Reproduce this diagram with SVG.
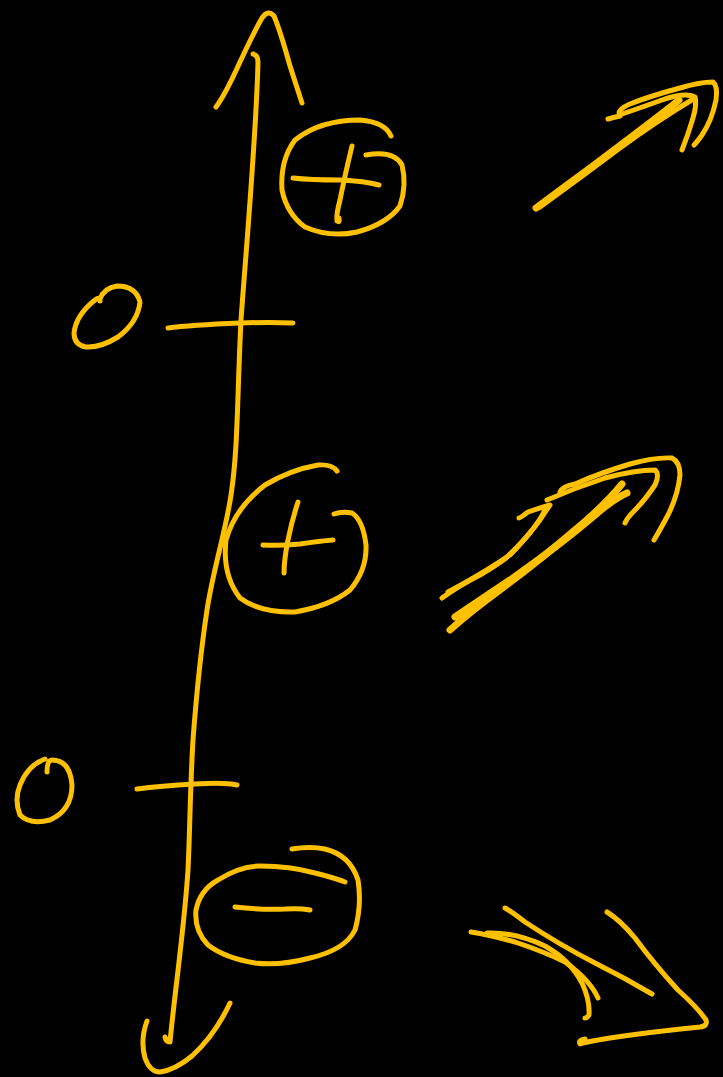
<svg xmlns="http://www.w3.org/2000/svg" width="723" height="1077" viewBox="0 0 723 1077">
<style>
.s{fill:none;stroke:#FFC000;stroke-width:5;stroke-linecap:round;stroke-linejoin:round}
.t{stroke-width:7}
</style>
<rect width="723" height="1077" fill="#000"/>
<g id="axis">
<path class="s" d="M253,54 Q258,55 258,62 C256,140 246,250 241,320 C237,400 238,450 231,495 C226,530 213,570 207,610 C201,650 196,700 193,740 C190,790 190,830 188,870 C184,930 175,990 170,1042 Q166,1042 165,1037"/>
<path class="s" d="M216,107 Q225,95 240,62 Q255,30 262,18 Q268,9 274,16 Q280,30 290,66 L302,103"/>
<path class="s" d="M147,1021 Q140,1040 145,1058 Q150,1072 160,1072 Q175,1070 192,1056 Q215,1035 230,1003"/>
</g>
<g id="tick-upper">
<path class="s" d="M168,328 Q190,325 240,323 Q270,322 293,323"/>
<path class="s" d="M100,299 Q104,288 117,286 Q136,286 140,302 Q138,322 118,337 Q100,348 86,347 Q74,345 74,333 Q76,315 95,300 Q100,296 100,301"/>
</g>
<g id="tick-lower">
<path class="s" d="M137,789 Q160,786 195,784 Q225,782 237,785"/>
<path class="s" d="M47,772 Q47,760 52,760 Q70,760 72,785 Q72,810 50,820 Q30,825 20,815 Q14,800 20,785 Q28,765 45,759"/>
</g>
<g id="plus-top">
<path class="s" d="M391,136 Q385,122 360,120 Q320,120 295,140 Q280,160 282,190 Q287,214 305,227 Q330,238 357,232 Q387,224 400,206 Q407,185 402,165 Q394,150 366,155"/>
<path class="s" d="M293,178 Q310,180 340,180 Q365,181 379,185"/>
<path class="s" d="M352,146 Q345,175 340,200 Q336,215 337,221 Q340,223 339,218"/>
</g>
<g id="plus-middle">
<path class="s" d="M337,471 Q332,464 318,465 Q290,470 265,485 Q235,508 226,540 Q222,575 240,598 Q260,613 295,612 Q330,606 350,590 Q367,570 366,545 Q363,520 352,513 Q342,511 334,514"/>
<path class="s" d="M263,545 Q280,546 300,544 Q320,541 333,540"/>
<path class="s" d="M298,502 Q292,520 288,540 Q284,560 284,573"/>
</g>
<g id="minus-bottom">
<path class="s" d="M292,849 Q310,846 325,849 Q350,855 358,880 Q362,905 355,930 Q345,950 310,958 Q280,966 255,963 Q225,958 208,945 Q194,930 196,910 Q200,890 218,880 Q240,866 260,866 Q290,866 315,873 Q335,878 345,882"/>
<path class="s" d="M235,907 Q260,910 285,909 Q300,908 310,910"/>
</g>
<g id="arrow-up-right-top">
<path class="s t" d="M536,208 Q560,190 590,168 Q630,138 660,115 Q672,106 679,100"/>
<path class="s" d="M540,207 Q580,178 620,148 Q655,122 695,98"/>
<path class="s" d="M608,119 Q615,117 620,116 Q616,110 630,104 Q650,96 680,88 Q700,82 713,82 Q718,86 716,100 Q712,120 702,135 Q697,142 694,145"/>
<path class="s" d="M682,150 Q688,135 693,118 Q697,105 695,97 Q685,92 662,100 Q640,108 622,114"/>
</g>
<g id="arrow-up-right-middle">
<path class="s t" d="M450,630 Q470,612 500,590 Q540,560 575,530 Q605,505 622,484"/>
<path class="s t" d="M455,617 Q480,600 510,580 Q560,545 595,515 Q615,498 627,493"/>
<path class="s" d="M442,598 Q460,585 480,575 Q500,563 507,557 Q525,540 540,520 Q545,512 550,505 Q540,508 528,512 Q520,518 519,518"/>
<path class="s" d="M448,592 Q480,575 510,555 Q535,530 545,510"/>
<path class="s" d="M560,492 Q563,486 575,484 Q600,473 630,464 Q655,457 672,458 Q680,462 680,475 Q678,495 668,515 Q660,530 654,540"/>
<path class="s" d="M547,500 Q575,488 605,478 Q635,470 655,470 Q660,474 655,485 Q645,500 635,510 Q627,518 625,523"/>
</g>
<g id="arrow-down-right">
<path class="s" d="M505,908 Q512,912 525,922 Q560,945 595,963 Q625,978 652,994"/>
<path class="s" d="M471,932 Q490,935 515,942 Q545,952 565,962 Q590,980 598,998"/>
<path class="s" d="M487,933 Q515,932 545,946 Q570,960 582,983 Q590,1000 589,1015 Q587,1018 585,1018"/>
<path class="s" d="M607,912 Q620,920 635,938 Q655,965 678,990 Q698,1008 706,1020 Q708,1026 700,1027 Q650,1032 610,1038 Q585,1042 580,1044 Q578,1040 585,1039"/>
</g>
</svg>
